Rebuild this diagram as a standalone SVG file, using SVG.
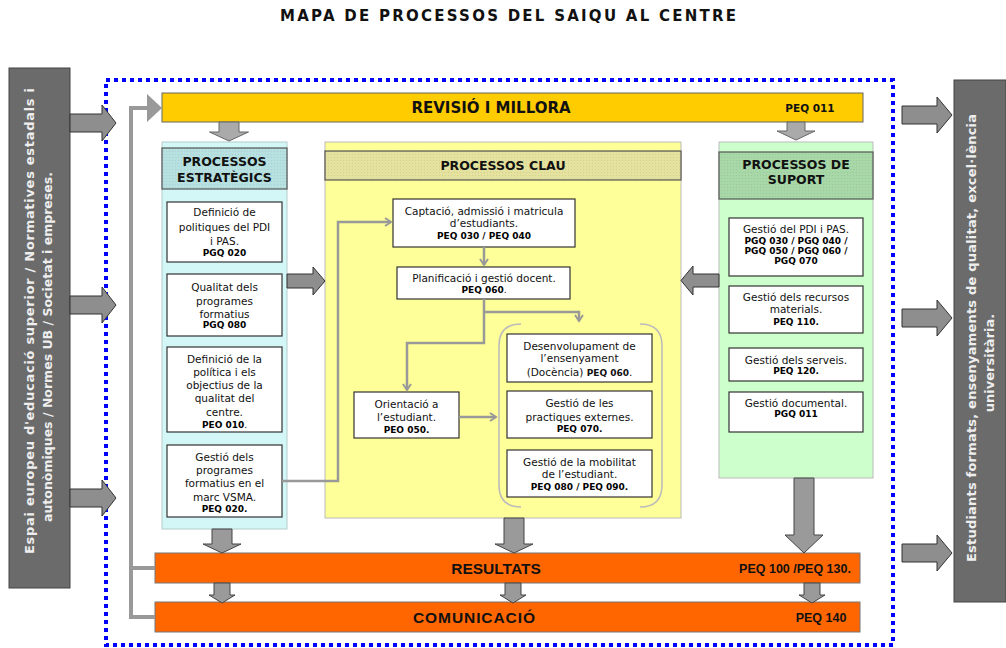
<svg xmlns="http://www.w3.org/2000/svg" width="1006" height="648" viewBox="0 0 1006 648">
<defs>
<style>
.t{font-family:"DejaVu Sans",Verdana,sans-serif;font-size:10.5px;fill:#111;text-anchor:middle}
.c{font-family:"DejaVu Sans",Verdana,sans-serif;font-size:9px;font-weight:bold;fill:#000;text-anchor:middle}
.h{font-family:"DejaVu Sans",Verdana,sans-serif;font-size:12.5px;font-weight:bold;fill:#111;text-anchor:middle}
.bar{font-family:"Liberation Sans",Arial,sans-serif;font-weight:bold;fill:#111}
.side{font-family:"DejaVu Sans",Verdana,sans-serif;font-size:13px;font-weight:bold;fill:#eee;text-anchor:middle}
.box{fill:#fff;stroke:#333;stroke-width:1.2}
.blk{fill:#8e8e8e;stroke:#333;stroke-width:1}
.dn{fill:#9a9a9a;stroke:#444;stroke-width:1}
.con{fill:none;stroke:#999;stroke-width:2.5}
.hdr{stroke:#555;stroke-width:1.2}
</style>
<pattern id="dots" width="3" height="3" patternUnits="userSpaceOnUse">
<circle cx="1.5" cy="1.5" r="0.6" fill="#000" fill-opacity="0.08"/>
</pattern>
<marker id="ah" markerWidth="10" markerHeight="10" refX="7" refY="5" orient="auto" markerUnits="userSpaceOnUse">
<path d="M1,1 L7,5 L1,9" fill="none" stroke="#999" stroke-width="2"/>
</marker>
</defs>
<rect width="1006" height="648" fill="#fff"/>
<text x="508" y="21" textLength="456" style="font-family:'DejaVu Sans',Verdana,sans-serif;font-size:15px;font-weight:bold;fill:#111" text-anchor="middle">MAPA DE PROCESSOS DEL SAIQU AL CENTRE</text>

<g id="entorn">
<rect x="9" y="68" width="61" height="520" fill="#6b6b6b" stroke="#444"/>
<text class="side" transform="translate(34,321) rotate(-90)" textLength="466">Espai europeu d'educació superior / Normatives estadals i</text>
<text class="side" transform="translate(52,347) rotate(-90)" style="font-size:12.5px" textLength="350">autonòmiques / Normes UB / Societat i empreses.</text>
</g>
<g id="sortida">
<rect x="954" y="80" width="52" height="522" fill="#6b6b6b" stroke="#444"/>
<text class="side" transform="translate(976,338) rotate(-90)" textLength="448">Estudiants formats, ensenyaments de qualitat,  excel·lència</text>
<text class="side" transform="translate(994,363) rotate(-90)">universitària.</text>
</g>

<rect id="marc" x="106" y="80" width="787" height="565" fill="none" stroke="#0000ff" stroke-width="4" stroke-dasharray="4 4"/>

<g id="revisio">
<rect x="162" y="93" width="701" height="29" fill="#ffcc00" stroke="#666"/>
<text class="bar" x="491" y="113" text-anchor="middle" style="font-family:'DejaVu Sans',Verdana,sans-serif;font-size:15px">REVISIÓ I MILLORA</text>
<text class="bar" x="810" y="112" text-anchor="middle" style="font-family:'DejaVu Sans',Verdana,sans-serif;font-size:10.5px">PEQ 011</text>
</g>

<g id="estrategics">
<rect x="162" y="142" width="125" height="387" fill="#d3f7f7" stroke="#b5cccc"/>
<rect x="162" y="148" width="125" height="41" fill="#b7e1e1" class="hdr"/>
<rect x="162" y="148" width="125" height="41" fill="url(#dots)"/>
<text class="h" x="224.5" y="166">PROCESSOS</text>
<text class="h" x="224.5" y="182">ESTRATÈGICS</text>
</g>
<g id="e1"><rect class="box" x="167" y="202" width="115" height="60"/>
<text class="t" x="224.5" y="216">Definició de</text><text class="t" x="224.5" y="231">politiques del PDI</text><text class="t" x="224.5" y="245">i PAS.</text><text class="c" x="224.5" y="256">PGQ 020</text></g>
<g id="e2"><rect class="box" x="167" y="274" width="115" height="62"/>
<text class="t" x="224.5" y="291">Qualitat dels</text><text class="t" x="224.5" y="305">programes</text><text class="t" x="224.5" y="318">formatius</text><text class="c" x="224.5" y="328">PGQ 080</text></g>
<g id="e3"><rect class="box" x="167" y="347" width="115" height="85"/>
<text class="t" x="224.5" y="363">Definició de la</text><text class="t" x="224.5" y="376">política i els</text><text class="t" x="224.5" y="389">objectius de la</text><text class="t" x="224.5" y="402">qualitat del</text><text class="t" x="224.5" y="416">centre.</text><text class="c" x="224.5" y="428">PEO 010<tspan style="font-weight:normal">.</tspan></text></g>
<g id="e4"><rect class="box" x="167" y="445" width="115" height="72"/>
<text class="t" x="224.5" y="461">Gestió dels</text><text class="t" x="224.5" y="474">programes</text><text class="t" x="224.5" y="487">formatius en el</text><text class="t" x="224.5" y="501">marc VSMA.</text><text class="c" x="224.5" y="512">PEQ 020.</text></g>

<g id="clau">
<rect x="325" y="142" width="356" height="376" fill="#ffff99" stroke="#bbb"/>
<rect x="325" y="151" width="356" height="29" fill="#e4e29e" class="hdr"/>
<rect x="325" y="151" width="356" height="29" fill="url(#dots)"/>
<text class="h" x="503" y="170">PROCESSOS CLAU</text>
<path d="M521,324 Q499,324 499,346 V485 Q499,507 521,507 M640,324 Q662,324 662,346 V485 Q662,507 640,507" fill="none" stroke="#bbb" stroke-width="1.5"/>
</g>
<g id="c1"><rect class="box" x="393" y="199" width="182" height="48"/>
<text class="t" x="484" y="215">Captació, admissió i matricula</text><text class="t" x="484" y="227">d’estudiants.</text><text class="c" x="484" y="239">PEQ 030 / PEQ 040</text></g>
<g id="c2"><rect class="box" x="397" y="267" width="173" height="32"/>
<text class="t" x="484" y="282">Planificació i gestió docent.</text><text class="c" x="484" y="293">PEQ 060<tspan style="font-weight:normal">.</tspan></text></g>
<g id="c3"><rect class="box" x="354" y="392" width="105" height="46"/>
<text class="t" x="406.5" y="408">Orientació a</text><text class="t" x="406.5" y="421">l’estudiant.</text><text class="c" x="406.5" y="433">PEO 050.</text></g>
<g id="c4"><rect class="box" x="507" y="334" width="145" height="48"/>
<text class="t" x="579.5" y="350">Desenvolupament de</text><text class="t" x="579.5" y="362">l’ensenyament</text><text class="t" x="579.5" y="376">(Docència) <tspan style="font-weight:bold;font-size:9px">PEQ 060</tspan>.</text></g>
<g id="c5"><rect class="box" x="507" y="391" width="145" height="47"/>
<text class="t" x="579.5" y="407">Gestió de les</text><text class="t" x="579.5" y="421">practiques externes.</text><text class="c" x="579.5" y="432">PEQ 070.</text></g>
<g id="c6"><rect class="box" x="507" y="450" width="145" height="47"/>
<text class="t" x="579.5" y="466">Gestió de la mobilitat</text><text class="t" x="579.5" y="478">de l’estudiant.</text><text class="c" x="579.5" y="490">PEQ 080 / PEQ 090.</text></g>

<g id="suport">
<rect x="719" y="142" width="154" height="336" fill="#ccffcc" stroke="#bbb"/>
<rect x="719" y="152" width="154" height="47" fill="#a8d8a8" class="hdr"/>
<rect x="719" y="152" width="154" height="47" fill="url(#dots)"/>
<text class="h" x="796" y="169">PROCESSOS DE</text>
<text class="h" x="796" y="184">SUPORT</text>
</g>
<g id="s1"><rect class="box" x="729" y="218" width="134" height="58"/>
<text class="t" x="796" y="233">Gestió del PDI i PAS.</text><text class="c" x="796" y="244">PGQ 030 / PGQ 040 /</text><text class="c" x="796" y="254">PGQ 050 / PGQ 060 /</text><text class="c" x="796" y="264">PGQ 070</text></g>
<g id="s2"><rect class="box" x="729" y="286" width="134" height="47"/>
<text class="t" x="796" y="301">Gestió dels recursos</text><text class="t" x="796" y="313">materials.</text><text class="c" x="796" y="325">PEQ 110.</text></g>
<g id="s3"><rect class="box" x="729" y="348" width="134" height="33"/>
<text class="t" x="796" y="364">Gestió dels serveis.</text><text class="c" x="796" y="374">PEQ 120.</text></g>
<g id="s4"><rect class="box" x="729" y="392" width="134" height="40"/>
<text class="t" x="796" y="407">Gestió documental.</text><text class="c" x="796" y="417">PGQ 011</text></g>

<g id="resultats">
<rect x="155" y="553" width="705" height="30" fill="#ff6600" stroke="#777"/>
<text class="bar" x="496" y="574" text-anchor="middle" style="font-size:15.5px">RESULTATS</text>
<text class="bar" x="795" y="573" text-anchor="middle" style="font-size:12.5px">PEQ 100 /PEQ 130.</text>
</g>
<g id="comunicacio">
<rect x="155" y="602" width="705" height="30" fill="#ff6600" stroke="#777"/>
<text class="bar" x="474" y="623" text-anchor="middle" style="font-size:15.5px" textLength="122">COMUNICACIÓ</text>
<text class="bar" x="821" y="622" text-anchor="middle" style="font-size:12.5px">PEQ 140</text>
</g>

<g id="connectors">
<path class="blk" d="M70,114 H102 V105 L116,123 L102,141 V132 H70 Z"/>
<path class="blk" d="M70,296 H102 V287 L116,305 L102,323 V314 H70 Z"/>
<path class="blk" d="M70,489 H102 V480 L116,498 L102,516 V507 H70 Z"/>
<path class="blk" d="M902,106 H937 V97 L952,115 L937,133 V124 H902 Z"/>
<path class="blk" d="M902,309 H937 V300 L952,318 L937,336 V327 H902 Z"/>
<path class="blk" d="M902,544 H937 V535 L952,553 L937,571 V562 H902 Z"/>
<path d="M155,617 H131 V108 H149 M131,568 H155" fill="none" stroke="#999" stroke-width="4"/>
<polygon points="147,94 162,108 147,122" fill="#999"/>
<path class="dn" style="fill:#aaa;stroke:#666" d="M219,122 V132 H209.5 L229,141 L248.5,132 H239 V122 Z"/>
<path class="dn" style="fill:#aaa;stroke:#666" d="M787,122 V131 H777 L796,140 L815,131 H805 V122 Z"/>
<path class="blk" d="M287,274 H313 V267 L325,281 L313,295 V288 H287 Z"/>
<path class="blk" d="M719,274 H693 V266 L681,280.5 L693,295 V287 H719 Z"/>
<path class="dn" d="M212,529 V544 H203 L222,553 L241,544 H232 V529 Z"/>
<path class="dn" d="M504,518 V544 H495 L514,553 L533,544 H524 V518 Z"/>
<path class="dn" d="M794,478 V535 H785 L804,553 L823,535 H814 V478 Z"/>
<path class="dn" d="M214,583 V595 H209 L222,603 L235,595 H230 V583 Z"/>
<path class="dn" d="M505,583 V595 H500 L513,603 L526,595 H521 V583 Z"/>
<path class="dn" d="M804,583 V595 H799 L812,603 L825,595 H820 V583 Z"/>
<path class="con" d="M282,481 H338 V222 H391" marker-end="url(#ah)"/>
<path class="con" d="M484,247 V265" marker-end="url(#ah)"/>
<path class="con" d="M484,299 V343 H407 V390" marker-end="url(#ah)"/>
<path class="con" d="M484,312 H579 V321" marker-end="url(#ah)"/>
<path class="con" d="M459,417 H496" marker-end="url(#ah)"/>
</g>
</svg>
